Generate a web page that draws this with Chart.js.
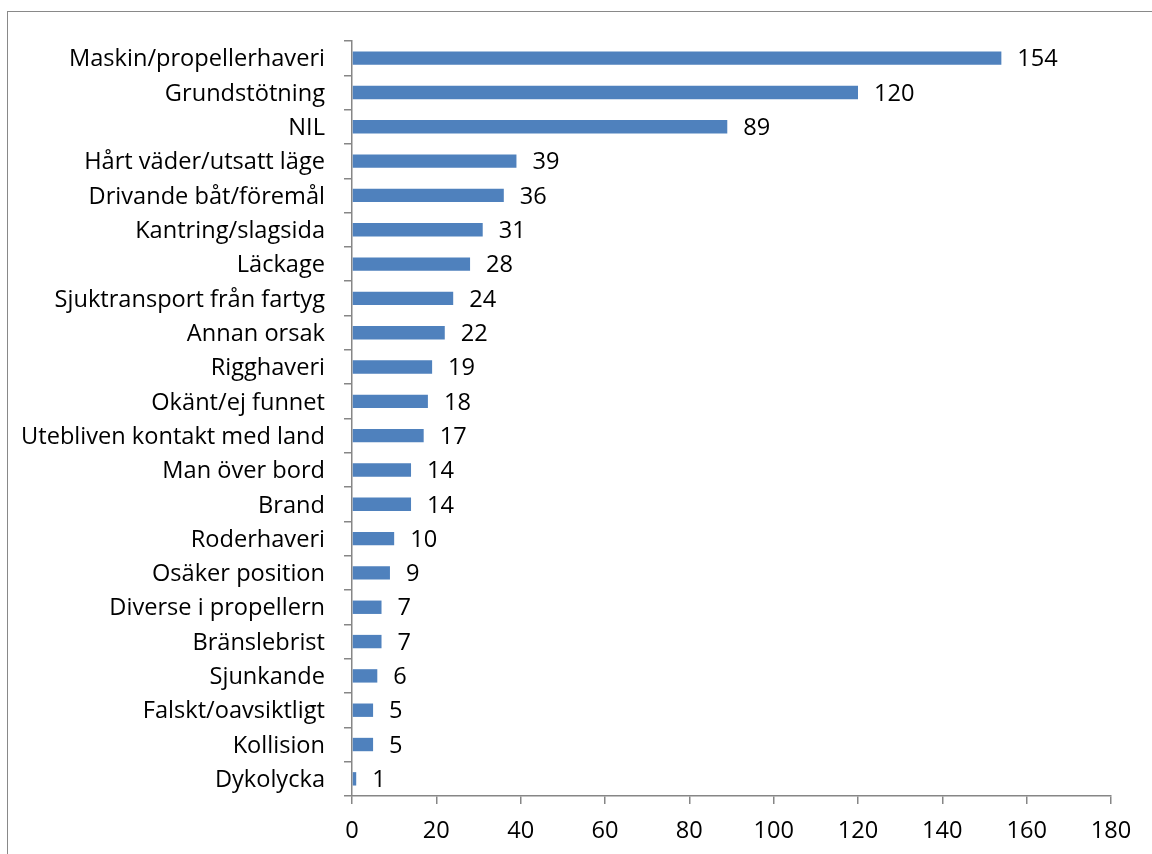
<!DOCTYPE html>
<html>
<head>
<meta charset="utf-8">
<script src="https://cdn.jsdelivr.net/npm/chart.js@4.4.1/dist/chart.umd.min.js"></script>
<style>
  html, body { margin: 0; padding: 0; background: #fff; }
  #wrap { position: relative; width: 1152px; height: 854px; overflow: hidden; }
  #frame { position: absolute; left: 7px; top: 11px; width: 1300px; height: 1000px; border: 1.5px solid #898989; box-sizing: border-box; }
  #c { position: absolute; left: 0; top: 0; }
</style>
</head>
<body>
<div id="wrap">
  <div id="frame"></div>
  <canvas id="c" width="1152" height="854"></canvas>
</div>
<script>
const categories = [
  "Maskin/propellerhaveri", "Grundstötning", "NIL", "Hårt väder/utsatt läge",
  "Drivande båt/föremål", "Kantring/slagsida", "Läckage", "Sjuktransport från fartyg",
  "Annan orsak", "Rigghaveri", "Okänt/ej funnet", "Utebliven kontakt med land",
  "Man över bord", "Brand", "Roderhaveri", "Osäker position",
  "Diverse i propellern", "Bränslebrist", "Sjunkande", "Falskt/oavsiktligt",
  "Kollision", "Dykolycka"
];
const values = [154, 120, 89, 39, 36, 31, 28, 24, 22, 19, 18, 17, 14, 14, 10, 9, 7, 7, 6, 5, 5, 1];
const xTicks = [0, 20, 40, 60, 80, 100, 120, 140, 160, 180];

const FONT = { family: "'Open Sans', sans-serif", size: 23.6 };
const AXIS_COLOR = '#868686';

const valueLabels = {
  id: 'valueLabels',
  afterDatasetsDraw(chart) {
    const ctx = chart.ctx;
    const meta = chart.getDatasetMeta(0);
    ctx.save();
    ctx.font = FONT.size + "px " + FONT.family;
    ctx.fillStyle = '#000';
    ctx.textAlign = 'left';
    ctx.textBaseline = 'middle';
    meta.data.forEach((bar, i) => {
      ctx.fillText(String(chart.data.datasets[0].data[i]), bar.x + 16, bar.y + 1.5);
    });
    ctx.restore();
  }
};

new Chart(document.getElementById('c'), {
  type: 'bar',
  data: {
    labels: categories,
    datasets: [{
      data: values,
      backgroundColor: '#4F81BD',
      borderWidth: 0,
      categoryPercentage: 1,
      barPercentage: 0.39
    }]
  },
  options: {
    indexAxis: 'y',
    responsive: false,
    animation: false,
    layout: { padding: { top: 41, right: 41, bottom: 0, left: 0 } },
    plugins: { legend: { display: false }, tooltip: { enabled: false } },
    scales: {
      x: {
        type: 'linear',
        min: 0, max: 180,
        afterBuildTicks(scale) { scale.ticks = xTicks.map(v => ({ value: v })); },
        afterFit(scale) { scale.height = 58; },
        grid: { drawOnChartArea: false, drawTicks: true, tickLength: 8, color: AXIS_COLOR, lineWidth: 1.5 },
        border: { display: true, color: AXIS_COLOR, width: 1.5 },
        ticks: { color: '#000', font: FONT, padding: 13, maxRotation: 0 }
      },
      y: {
        type: 'category',
        afterFit(scale) { scale.width = 352; },
        grid: { drawOnChartArea: false, drawTicks: true, tickLength: 8, color: AXIS_COLOR, lineWidth: 1.5, offset: true },
        border: { display: true, color: AXIS_COLOR, width: 1.5 },
        ticks: { color: '#000', font: FONT, padding: 19, autoSkip: false, labelOffset: 1.5 }
      }
    }
  },
  plugins: [valueLabels]
});
</script>
</body>
</html>
